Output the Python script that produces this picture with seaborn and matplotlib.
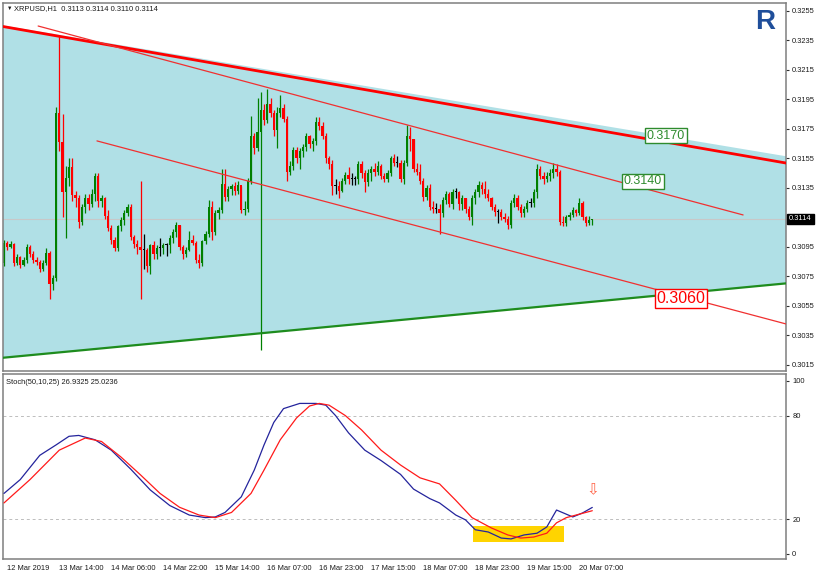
import matplotlib
matplotlib.use("Agg")
import matplotlib.pyplot as plt
import matplotlib.transforms as mtransforms
from matplotlib.patches import Rectangle
import pandas as pd
import seaborn as sns

# XRPUSD H1 candles, prices in 1e-4 units (open of each bar = previous close)
first_open = 3084
closes = [
    3098, 3095, 3097, 3084, 3088, 3083, 3086, 3095, 3090, 3086, 3085, 3080, 3084, 3091, 3070, 3074,
    3186, 3166, 3132, 3142, 3149, 3130, 3128, 3112, 3122, 3128, 3124, 3131, 3143, 3126, 3128, 3116,
    3108, 3100, 3094, 3109, 3113, 3118, 3122, 3102, 3097, 3095, 3093, 3093, 3082, 3096, 3090, 3094,
    3094, 3096, 3096, 3101, 3105, 3110, 3095, 3090, 3093, 3100, 3098, 3086, 3084, 3099, 3104, 3122,
    3105, 3118, 3120, 3138, 3129, 3134, 3136, 3133, 3137, 3120, 3121, 3140, 3170, 3162, 3173, 3188,
    3181, 3192, 3186, 3174, 3186, 3189, 3182, 3146, 3150, 3161, 3155, 3160, 3163, 3170, 3165, 3167,
    3180, 3177, 3170, 3155, 3151, 3136, 3136, 3133, 3140, 3144, 3141, 3141, 3141, 3151, 3145, 3139,
    3145, 3148, 3146, 3150, 3143, 3141, 3145, 3155, 3152, 3152, 3141, 3152, 3170, 3168, 3148, 3146,
    3140, 3129, 3135, 3122, 3121, 3121, 3118, 3127, 3131, 3124, 3132, 3132, 3124, 3128, 3121, 3115,
    3128, 3132, 3137, 3134, 3131, 3128, 3122, 3119, 3119, 3115, 3114, 3110, 3125, 3128, 3122, 3118,
    3121, 3125, 3125, 3132, 3148, 3143, 3141, 3143, 3145, 3148, 3146, 3112, 3111, 3115, 3117, 3120,
    3118, 3125, 3115, 3111, 3113, 3114,
]
highs = [
    3100, 3099, 3099, 3098, 3090, 3089, 3088, 3097, 3096, 3092, 3088, 3086, 3086, 3094, 3092, 3076,
    3190, 3239, 3185, 3150, 3155, 3155, 3133, 3130, 3124, 3131, 3131, 3134, 3145, 3145, 3130, 3129,
    3120, 3110, 3102, 3110, 3115, 3120, 3124, 3124, 3103, 3100, 3140, 3104, 3094, 3097, 3099, 3096,
    3101, 3098, 3098, 3103, 3107, 3112, 3110, 3096, 3095, 3106, 3103, 3099, 3090, 3100, 3106, 3127,
    3126, 3120, 3122, 3148, 3148, 3136, 3138, 3139, 3140, 3136, 3126, 3142, 3184, 3172, 3196, 3200,
    3192, 3202, 3196, 3188, 3190, 3198, 3192, 3184, 3153, 3163, 3163, 3162, 3165, 3172, 3171, 3169,
    3183, 3183, 3180, 3172, 3157, 3154, 3141, 3140, 3142, 3146, 3149, 3145, 3143, 3153, 3153, 3147,
    3148, 3150, 3152, 3153, 3151, 3145, 3147, 3157, 3158, 3157, 3154, 3154, 3178, 3176, 3168, 3152,
    3151, 3142, 3137, 3138, 3126, 3125, 3124, 3129, 3133, 3132, 3134, 3135, 3133, 3130, 3128, 3123,
    3130, 3134, 3140, 3139, 3140, 3134, 3129, 3124, 3121, 3121, 3118, 3116, 3127, 3131, 3130, 3124,
    3123, 3127, 3128, 3134, 3151, 3150, 3146, 3146, 3148, 3152, 3151, 3147, 3116, 3117, 3119, 3122,
    3121, 3128, 3126, 3116, 3116, 3114,
]
lows = [
    3082, 3093, 3094, 3082, 3083, 3081, 3082, 3084, 3088, 3084, 3083, 3078, 3079, 3083, 3060, 3066,
    3072, 3160, 3115, 3101, 3136, 3126, 3122, 3108, 3110, 3118, 3120, 3122, 3126, 3122, 3122, 3114,
    3106, 3097, 3092, 3092, 3106, 3110, 3116, 3100, 3094, 3090, 3060, 3080, 3078, 3077, 3087, 3087,
    3089, 3090, 3089, 3091, 3098, 3102, 3093, 3087, 3088, 3092, 3096, 3084, 3081, 3082, 3097, 3102,
    3100, 3103, 3114, 3118, 3126, 3126, 3130, 3130, 3131, 3118, 3117, 3119, 3138, 3158, 3160, 3025,
    3178, 3179, 3183, 3170, 3162, 3183, 3180, 3140, 3144, 3147, 3152, 3148, 3156, 3160, 3162, 3160,
    3164, 3174, 3168, 3152, 3148, 3130, 3131, 3128, 3132, 3138, 3138, 3137, 3137, 3138, 3142, 3132,
    3136, 3140, 3143, 3144, 3141, 3139, 3139, 3143, 3150, 3149, 3139, 3138, 3150, 3160, 3146, 3144,
    3138, 3126, 3127, 3120, 3118, 3118, 3104, 3115, 3124, 3122, 3121, 3128, 3120, 3120, 3118, 3113,
    3110, 3124, 3129, 3131, 3128, 3126, 3120, 3116, 3111, 3113, 3112, 3107, 3108, 3122, 3120, 3115,
    3115, 3119, 3122, 3122, 3128, 3141, 3138, 3139, 3140, 3142, 3143, 3110, 3109, 3109, 3113, 3115,
    3116, 3117, 3113, 3109, 3110, 3110,
]

time_labels = ["12 Mar 2019", "13 Mar 14:00", "14 Mar 06:00", "14 Mar 22:00", "15 Mar 14:00",
               "16 Mar 07:00", "16 Mar 23:00", "17 Mar 15:00", "18 Mar 07:00", "18 Mar 23:00",
               "19 Mar 15:00", "20 Mar 07:00"]
time_label_bars = [0, 16, 32, 48, 64, 80, 96, 112, 128, 144, 160, 176]

price_ticks = [0.3255, 0.3235, 0.3215, 0.3195, 0.3175, 0.3155, 0.3135,
               0.3095, 0.3075, 0.3055, 0.3035, 0.3015]
last_price = 0.3114

# trend lines: bar positions and prices at both ends
upper_bars, upper_prices = [-1.2, 240.6], [0.32448, 0.31519]
fill_top_prices = [0.32455, 0.31565]
lower_bars, lower_prices = [-1.2, 240.6], [0.30197, 0.30703]
chan_hi_bars, chan_hi_prices = [10.5, 227.4], [0.32448, 0.31167]
chan_lo_bars, chan_lo_prices = [28.6, 240.6], [0.31669, 0.30428]

# level tags: bar, price
tag_3170 = (203.7, 0.31703)
tag_3140 = (196.6, 0.31397)
tag_3060 = (208.3, 0.30601)

# Stoch(50,10,25) read at sample bars
main_bars = [0, 5, 11, 16, 20, 23, 28, 33, 39, 45, 51, 57, 62, 65, 68, 73, 77, 80, 83, 86, 91, 96,
             99, 102, 106, 111, 116, 122, 126, 131, 134, 139, 142, 145, 149, 153, 156, 160, 164,
             167, 170, 173, 175, 178, 181]
main_vals = [35, 43, 57, 63, 68, 68.5, 66, 60, 49, 37, 28, 22.5, 21, 21.4, 24, 33, 48.5, 63, 76, 84,
             87, 87, 86, 80, 70, 60, 54, 46, 37.5, 32, 29.5, 22.5, 19.7, 14, 12.7, 9.2, 8.7, 11, 12,
             15.6, 25.4, 23, 21.4, 23.7, 26.9]
sig_bars = [0, 8, 17, 25, 30, 36, 42, 48, 54, 60, 65, 70, 76, 80, 85, 90, 94, 97, 100, 105, 110,
            116, 122, 128, 134, 139, 144, 150, 155, 159, 163, 167, 170, 173, 177, 181]
sig_vals = [29.5, 43, 60, 67, 65, 56, 45.7, 35, 27, 22.5, 21, 24, 35, 48.5, 66, 78.6, 85.5, 87, 86,
            80, 71.7, 60, 51.4, 44, 40.5, 31, 21, 15, 11, 9.2, 9.8, 12, 18, 21, 23, 25]
highlight_bars = [144.3, 172.3]
highlight_levels = [7.0, 16.3]
arrow_bar, arrow_level = 181, 37

sns.set_style("white")
plt.rcParams["font.family"] = ["Liberation Sans", "DejaVu Sans"]

df = pd.DataFrame({"close": closes, "high": highs, "low": lows})
df["open"] = [first_open] + closes[:-1]
df = df / 10000.0
df["bar"] = range(len(df))
df["color"] = ["#008000" if c > o else ("#FF0000" if c < o else "#000000")
               for o, c in zip(df["open"], df["close"])]
df["body"] = (df["close"] - df["open"]).abs().clip(lower=0.00007)
df["bottom"] = df[["open", "close"]].min(axis=1)

fig = plt.figure(figsize=(8.2, 5.77), dpi=100)
ax = fig.add_axes([3 / 820, 1 - 371 / 577, 783 / 820, 368 / 577])
ax2 = fig.add_axes([3 / 820, 1 - 559 / 577, 783 / 820, 185 / 577])

# price panel
ax.fill(upper_bars + upper_bars[::-1], fill_top_prices + lower_prices[::-1],
        color="#B0E0E6", lw=0, zorder=0)
ax.axhline(last_price, color="#C8C8C8", lw=0.8, zorder=0.5)
ax.vlines(df["bar"], df["low"], df["high"], colors=df["color"], lw=0.9, zorder=2)
ax.bar(df["bar"], df["body"], bottom=df["bottom"], width=0.65, color=df["color"], lw=0, zorder=2)

sns.lineplot(x=upper_bars, y=upper_prices, color="#FF0000", lw=2, ax=ax, zorder=3)
sns.lineplot(x=lower_bars, y=lower_prices, color="#1E8C1E", lw=1.6, ax=ax, zorder=3)
sns.lineplot(x=chan_hi_bars, y=chan_hi_prices, color="#F03030", lw=0.9, ax=ax, zorder=3)
sns.lineplot(x=chan_lo_bars, y=chan_lo_prices, color="#F03030", lw=0.9, ax=ax, zorder=3)

green_tag = "#2E8B2E"
for (b, p), col, fs in [(tag_3170, green_tag, 9), (tag_3140, green_tag, 9), (tag_3060, "#FF0000", 11.5)]:
    ax.text(b, p, f"{p:.4f}", color=col, fontsize=fs, ha="center", va="center", zorder=5,
            bbox=dict(boxstyle="square,pad=0.12", fc="white", ec=col, lw=1))

ax.set_xlim(-0.31, 240.6)
ax.set_ylim(0.30109, 0.32604)
ax.set_xticks([])
ax.yaxis.tick_right()
ax.set_yticks(price_ticks)
ax.set_yticklabels([f"{t:.4f}" for t in price_ticks])
ax.tick_params(axis="y", length=2.5, width=0.8, color="#303030", pad=2, labelsize=5.4,
               labelcolor="#1a1a1a")

ax.text(0.005, 0.986, "\u25bc", transform=ax.transAxes, fontsize=4, va="center", color="#1a1a1a")
ax.text(0.014, 0.986, "XRPUSD,H1  0.3113 0.3114 0.3110 0.3114", transform=ax.transAxes,
        fontsize=5.4, va="center", color="#1a1a1a")
price_tr = mtransforms.blended_transform_factory(ax.transAxes, ax.transData)
ax.text(1.004, last_price, f"{last_price:.4f}", transform=price_tr, color="white", fontsize=5.4,
        va="center", ha="left", bbox=dict(boxstyle="square,pad=0.25", fc="black", ec="black"))
fig.text(765 / 820, 1 - 22 / 577, "R", fontsize=20, fontweight="bold", color="#1F4E9A",
         ha="center", va="center")

# stochastic panel
ax2.add_patch(Rectangle((highlight_bars[0], highlight_levels[0]),
                        highlight_bars[1] - highlight_bars[0],
                        highlight_levels[1] - highlight_levels[0],
                        color="#FFD400", lw=0, zorder=1))
for lvl in (20, 80):
    ax2.axhline(lvl, color="#BDBDBD", lw=0.7, ls=(0, (3, 3)), zorder=0.5)
sns.lineplot(x=main_bars, y=main_vals, color="#24249C", lw=0.9, ax=ax2, zorder=3)
sns.lineplot(x=sig_bars, y=sig_vals, color="#FF1A1A", lw=0.9, ax=ax2, zorder=3)
ax2.text(arrow_bar, arrow_level, "\u21e9", color="#FF6347", fontsize=11, ha="center",
         va="center", family="DejaVu Sans")
ax2.text(0.004, 0.955, "Stoch(50,10,25) 26.9325 25.0236", transform=ax2.transAxes,
         fontsize=5.4, va="center", color="#1a1a1a")

ax2.set_xlim(-0.31, 240.6)
ax2.set_ylim(-2.9, 104)
ax2.yaxis.tick_right()
ax2.set_yticks([0, 20, 80, 100])
ax2.set_yticklabels(["0", "20", "80", "100"])
ax2.tick_params(axis="y", length=2.5, width=0.8, color="#303030", pad=2, labelsize=5.4,
                labelcolor="#1a1a1a")
ax2.set_xticks(time_label_bars)
ax2.set_xticklabels(time_labels)
ax2.tick_params(axis="x", length=4, width=0.8, color="#303030", pad=0.5, labelsize=5.4,
                labelcolor="#1a1a1a")
offset = mtransforms.ScaledTranslation(2 / 72, 0, fig.dpi_scale_trans)
for lab in ax2.get_xticklabels():
    lab.set_ha("left")
    lab.set_transform(lab.get_transform() + offset)
ax2.set_xlabel("")
ax2.set_ylabel("")
ax.set_xlabel("")
ax.set_ylabel("")

for a in (ax, ax2):
    for s in a.spines.values():
        s.set_color("#7F7F7F")
        s.set_linewidth(1.1)
    a.set_facecolor("white")

fig.savefig("out.png", dpi=100, facecolor="white")
